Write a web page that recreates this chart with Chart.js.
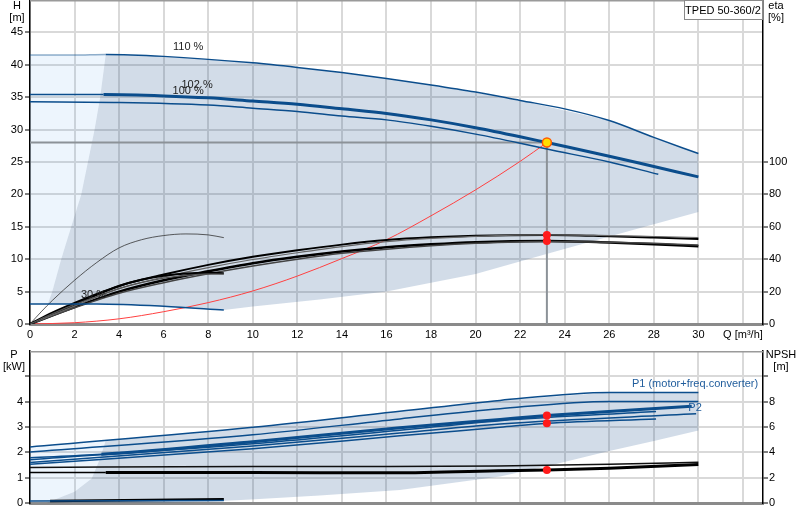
<!DOCTYPE html>
<html>
<head>
<meta charset="utf-8">
<script src="https://cdn.jsdelivr.net/npm/chart.js@4.4.1/dist/chart.umd.min.js"></script>
<style>
  body { margin: 0; background: #fff; }
  #wrap { position: relative; width: 800px; height: 520px; }
  canvas { position: absolute; left: 0; }
</style>
</head>
<body>
<div id="wrap">
  <canvas id="headChart" width="800" height="340" style="top:0"></canvas>
  <canvas id="powerChart" width="800" height="180" style="top:340px"></canvas>
</div>
<script>
// ---- head / efficiency chart data (Q in m3/h) ----
const qH110 = [0, 2, 3.4, 6, 10, 12, 14, 16, 18, 20, 22, 24, 26, 28, 30];
const h110 = [41.5, 41.5, 41.6, 41.3, 40.3, 39.6, 38.8, 37.9, 36.9, 35.8, 34.5, 33.2, 31.4, 28.8, 26.3];
const qH102 = [0, 3.3, 6, 8, 10, 12, 14, 16, 18, 20, 22, 23.2, 26, 28, 30];
const h102 = [35.4, 35.4, 35.2, 34.9, 34.4, 33.9, 33.2, 32.5, 31.5, 30.3, 28.9, 28.0, 25.9, 24.3, 22.7];
const qH100 = [0, 4, 8, 10, 12, 14, 16, 18, 20, 22, 23.2, 26, 28.2];
const h100 = [34.3, 34.2, 33.8, 33.3, 32.8, 32.1, 31.5, 30.5, 29.3, 27.9, 27.0, 25.0, 23.1];
const qH30 = [0, 3, 6, 8.7];
const h30 = [3.1, 3.1, 2.75, 2.15];

const qSys = [0, 2, 4, 6, 8, 10, 12, 14, 16, 18, 20, 22, 23.2];
const hSys = [0, 0.2, 0.8, 1.9, 3.3, 5.1, 7.4, 10.1, 13.0, 16.7, 20.7, 25.1, 28.0];

const qEta = [0, 2, 4, 6, 8, 10, 12, 14, 16, 18, 20, 23.2, 26, 28, 30];
const etaA = [0, 12, 23.5, 30.5, 36.5, 41.5, 45.5, 49, 51.8, 53.5, 54.5, 55, 54.2, 53.4, 52.5];
const etaA2 = [0, 11, 22, 29, 34.8, 39.8, 44, 47.8, 50.8, 52.8, 54.1, 55, 54.6, 54, 53.4];
const etaB = [0, 10.5, 20, 27, 32.5, 37.5, 41.5, 44.8, 47.4, 49.2, 50.5, 51.2, 50.3, 49.3, 48];
const etaB2 = [0, 10, 19, 25.5, 31, 35.8, 40, 43.6, 46.2, 48.3, 49.8, 51, 50.5, 49.8, 48.8];
const qEtaS = [0, 1, 2, 3, 4, 5, 6, 7, 8, 8.7];
const etaS1 = [0, 7, 13, 18.5, 23.5, 27.3, 29.8, 31.2, 31.7, 31.4];
const etaS2 = [0, 6.3, 12, 17, 21.8, 25.5, 28.3, 30, 30.8, 30.8];
const qEtaT = [0, 0.5, 1, 2, 3, 4, 5, 6, 7, 8, 8.7];
const etaT = [0, 7.5, 14.5, 27, 38, 47, 52, 54.6, 55.6, 55, 53.3];

const shadeTopQ = [0.8, 1.0, 1.4, 1.85, 2.3, 2.6, 2.9, 3.15, 3.4, 6, 10, 14, 18, 22, 26, 28, 30, 30, 28, 26, 23.3, 20, 16, 13, 10, 8.7, 6, 3];
const shadeTopH = [3.1, 5, 10, 15, 20, 25, 30, 35, 41.6, 41.3, 40.3, 38.8, 36.9, 34.5, 31.4, 28.8, 26.3, 17.3, 15.4, 13.5, 10.9, 7.7, 5.0, 3.8, 2.7, 2.15, 2.75, 3.1];
const lightTopQ = [0, 0, 2, 3.4, 3.15, 2.9, 2.6, 2.3, 1.85, 1.4, 1.0, 0.8];
const lightTopH = [3.1, 41.5, 41.5, 41.6, 35, 30, 25, 20, 15, 10, 5, 3.1];

const dutyQ = 23.2;
const dutyH = 28.0;
const dutyEta = [55, 51.2];

// ---- power / NPSH chart data ----
const qP1 = [0, 10, 16.6, 21.1, 26, 30];
const p1a = [2.21, 2.99, 3.62, 4.05, 4.36, 4.36];
const p1b = [2.01, 2.69, 3.32, 3.72, 4.01, 4.01];
const qP2 = [0, 3.2, 10, 16.6, 21.1, 23.2, 29.7];
const p2 = [1.79, 1.92, 2.42, 2.97, 3.3, 3.45, 3.82];
const qPA = [0, 10, 16.6, 21.1, 28.1];
const pA = [1.71, 2.34, 2.87, 3.25, 3.61];
const qPB = [0, 10, 16.6, 21.1, 29.9];
const pB = [1.6, 2.25, 2.76, 3.12, 3.52];
const qPC = [0, 10, 16.6, 21.1, 23.2, 28.1];
const pC = [1.53, 2.14, 2.65, 2.99, 3.15, 3.32];
const qPLow = [0, 8.7];
const pLow = [0.08, 0.1];

const qNU = [0, 10, 16, 21, 26, 30];
const npshU = [2.8, 2.88, 2.88, 2.92, 3.05, 3.22];
const qNL = [0, 3.4, 10, 16, 21, 23.2, 26, 30];
const npshL = [2.4, 2.4, 2.4, 2.38, 2.55, 2.6, 2.75, 3.04];
const qNLow = [0.9, 8.7];
const npshLow = [0.15, 0.3];

const shadeBotQ = [0.75, 2.0, 2.77, 3.14, 3.4, 10, 16.6, 21.1, 26, 30, 30, 28, 26, 23.2, 21.1, 16.6, 13, 9.9, 7.9, 6];
const shadeBotP = [0.01, 0.44, 0.97, 1.75, 2.47, 2.99, 3.62, 4.05, 4.36, 4.36, 2.86, 2.45, 2.05, 1.45, 1.05, 0.51, 0.3, 0.14, 0.05, 0.01];
const lightBotQ = [0, 0, 3.4, 3.14, 2.77, 2.0, 0.75];
const lightBotP = [0, 2.21, 2.47, 1.75, 0.97, 0.44, 0.01];

const dutyP = [3.45, 3.15];
const dutyNpsh = 2.6;

// ---- styling ----
const BLUE = '#0b4d8c';
const BLUE_LIGHT = 'rgba(11,77,140,0.45)';
const GRID = '#d9d9d9';
const SHADE = 'rgba(30,80,140,0.2)';
const LIGHT = 'rgba(80,160,235,0.1)';

Chart.defaults.font.family = "'Liberation Sans', Arial, sans-serif";
Chart.defaults.font.size = 11;
Chart.defaults.color = '#000';

function pts(qs, vs) {
  return qs.map((q, i) => ({ x: q, y: vs[i] }));
}

function curve(qs, vs, axis, color, width, extra) {
  return Object.assign({
    data: pts(qs, vs), yAxisID: axis, borderColor: color, borderWidth: width,
    showLine: true, pointRadius: 0, fill: false, cubicInterpolationMode: 'monotone', order: 2
  }, extra || {});
}

function region(qs, vs, axis, color) {
  return {
    data: pts(qs, vs), yAxisID: axis, showLine: true, borderWidth: 0,
    borderColor: 'rgba(0,0,0,0)', backgroundColor: color, fill: 'shape',
    pointRadius: 0, tension: 0, order: 10
  };
}

function dots(qs, vs, axis) {
  return {
    data: pts(qs, vs), yAxisID: axis, showLine: false, pointRadius: 4,
    backgroundColor: '#ff1a1a', borderWidth: 0, order: 0
  };
}

// texts and frame lines drawn on top of the chart
const notesPlugin = {
  id: 'notes',
  afterDraw(chart, args, opts) {
    const ctx = chart.ctx;
    const area = chart.chartArea;
    ctx.save();
    ctx.strokeStyle = '#9a9a9a';
    ctx.lineWidth = 1.5;
    ctx.beginPath();
    ctx.moveTo(area.left, area.top + 0.75);
    ctx.lineTo(area.right, area.top + 0.75);
    ctx.stroke();
    ctx.font = "11px 'Liberation Sans', Arial, sans-serif";
    ctx.textBaseline = 'middle';
    (opts.items || []).forEach(t => {
      let x = t.px, y = t.py;
      if (t.q !== undefined) {
        x = chart.scales.x.getPixelForValue(t.q);
        y = chart.scales[t.axis].getPixelForValue(t.v);
      }
      ctx.fillStyle = t.color || '#000';
      ctx.textAlign = t.align || 'center';
      ctx.fillText(t.text, x, y);
    });
    if (opts.box) {
      const b = opts.box;
      ctx.fillStyle = '#fff';
      ctx.fillRect(b.x1, b.y1, b.x2 - b.x1, b.y2 - b.y1);
      ctx.strokeStyle = '#8a8a8a';
      ctx.lineWidth = 1;
      ctx.strokeRect(b.x1 + 0.5, b.y1 + 0.5, b.x2 - b.x1, b.y2 - b.y1);
      ctx.fillStyle = '#000';
      ctx.textAlign = 'center';
      ctx.fillText(b.text, (b.x1 + b.x2) / 2, (b.y1 + b.y2) / 2 + 1);
    }
    ctx.restore();
  }
};

function xScale(height, showLabels) {
  return {
    type: 'linear', min: 0, max: 32.9,
    afterFit: s => { s.height = height; s.paddingLeft = 0; s.paddingRight = 0; },
    grid: { color: GRID, lineWidth: 2, drawTicks: false },
    border: { color: '#8a8a8a', width: 3 },
    ticks: {
      display: showLabels, stepSize: 2, includeBounds: false, padding: 4,
      maxRotation: 0, autoSkip: false,
      callback: v => (v === 32 ? 'Q [m³/h]' : v)
    }
  };
}

function yScale(pos, min, max, step, maxTick, maxLabel, width, withGrid) {
  return {
    type: 'linear', position: pos, min: min, max: max,
    afterFit: s => { s.width = width; s.paddingTop = 0; s.paddingBottom = 0; },
    afterBuildTicks: s => { s.ticks = s.ticks.filter(t => t.value <= maxTick); },
    grid: {
      color: GRID, lineWidth: 2, drawOnChartArea: withGrid,
      tickLength: 5, tickColor: '#000', tickWidth: 1
    },
    border: { color: '#000', width: 1.5 },
    ticks: { stepSize: step, padding: pos === 'left' ? 2 : 1, callback: v => (v <= maxLabel ? v : '') }
  };
}

const baseOptions = {
  responsive: false,
  animation: false,
  layout: { autoPadding: false, padding: 0 },
  plugins: { legend: { display: false }, tooltip: { enabled: false } }
};

new Chart(document.getElementById('headChart'), {
  type: 'scatter',
  data: {
    datasets: [
      region(lightTopQ, lightTopH, 'yH', LIGHT),
      region(shadeTopQ, shadeTopH, 'yH', SHADE),
      curve([0, dutyQ], [dutyH, dutyH], 'yH', '#8c9298', 2, { order: 8, cubicInterpolationMode: 'default' }),
      curve([dutyQ, dutyQ], [dutyH, 0], 'yH', '#8c9298', 2, { order: 8, cubicInterpolationMode: 'default' }),
      curve(qSys, hSys, 'yH', '#ff4040', 1, { order: 3 }),
      curve(qH110, h110, 'yH', BLUE, 1.5, { segment: { borderColor: c => (c.p1.parsed.x <= 3.4 ? BLUE_LIGHT : undefined) } }),
      curve(qH100, h100, 'yH', BLUE, 1.5),
      curve(qH102, h102, 'yH', BLUE, 3, { segment: { borderWidth: c => (c.p1.parsed.x <= 3.3 ? 1.5 : undefined) } }),
      curve(qH30, h30, 'yH', BLUE, 1.5),
      curve(qEtaT, etaT, 'yEta', '#333', 0.8),
      curve(qEtaS, etaS2, 'yEta', '#555', 1.2),
      curve(qEtaS, etaS1, 'yEta', '#000', 2),
      curve(qEta, etaA2, 'yEta', '#666', 1.2),
      curve(qEta, etaB2, 'yEta', '#444', 1.5),
      curve(qEta, etaA, 'yEta', '#000', 2),
      curve(qEta, etaB, 'yEta', '#000', 2.5),
      dots([dutyQ, dutyQ], dutyEta, 'yEta'),
      {
        data: [{ x: dutyQ, y: dutyH }], yAxisID: 'yH', showLine: false, pointRadius: 4.5,
        backgroundColor: '#ffdd00', borderColor: '#ff5a00', borderWidth: 1.5, order: -1
      }
    ]
  },
  options: Object.assign({}, baseOptions, {
    scales: {
      x: xScale(16, true),
      yH: yScale('left', 0, 50, 5, 45, 45, 30, true),
      yEta: yScale('right', 0, 200, 20, 100, 100, 37, false)
    },
    plugins: Object.assign({}, baseOptions.plugins, {
      notes: {
        items: [
          { text: 'H', px: 17, py: 6 },
          { text: '[m]', px: 17, py: 18 },
          { text: 'eta', px: 776, py: 6 },
          { text: '[%]', px: 776, py: 18 },
          { text: '110 %', q: 7.1, v: 42.7, axis: 'yH', color: '#222' },
          { text: '102 %', q: 7.5, v: 36.9, axis: 'yH', color: '#222' },
          { text: '100 %', q: 7.1, v: 35.9, axis: 'yH', color: '#222' },
          { text: '30 %', q: 2.85, v: 4.5, axis: 'yH', color: '#222' }
        ],
        box: { text: 'TPED 50-360/2', x1: 684, y1: 0, x2: 762, y2: 19 }
      }
    })
  }),
  plugins: [notesPlugin]
});

new Chart(document.getElementById('powerChart'), {
  type: 'scatter',
  data: {
    datasets: [
      region(lightBotQ, lightBotP, 'yP', LIGHT),
      region(shadeBotQ, shadeBotP, 'yP', SHADE),
      curve(qP1, p1a, 'yP', BLUE, 1.5),
      curve(qP1, p1b, 'yP', BLUE, 1.5),
      curve(qPA, pA, 'yP', BLUE, 1.5),
      curve(qPB, pB, 'yP', BLUE, 1.5),
      curve(qPC, pC, 'yP', BLUE, 1.5),
      curve(qP2, p2, 'yP', BLUE, 3, { segment: { borderWidth: c => (c.p1.parsed.x <= 3.2 ? 1.5 : undefined) } }),
      curve(qPLow, pLow, 'yP', BLUE, 1.5),
      curve(qNU, npshU, 'yN', '#111', 1.5),
      curve(qNL, npshL, 'yN', '#000', 3, { segment: { borderWidth: c => (c.p1.parsed.x <= 3.4 ? 1.5 : undefined) } }),
      curve(qNLow, npshLow, 'yN', '#000', 2.5),
      dots([dutyQ, dutyQ], dutyP, 'yP'),
      dots([dutyQ], [dutyNpsh], 'yN')
    ]
  },
  options: Object.assign({}, baseOptions, {
    layout: { autoPadding: false, padding: { top: 11 } },
    scales: {
      x: xScale(17, false),
      yP: yScale('left', 0, 6, 1, 5, 4, 30, true),
      yN: yScale('right', 0, 12, 2, 10, 8, 37, false)
    },
    plugins: Object.assign({}, baseOptions.plugins, {
      notes: {
        items: [
          { text: 'P', px: 14, py: 15 },
          { text: '[kW]', px: 14, py: 27 },
          { text: 'NPSH', px: 781, py: 15 },
          { text: '[m]', px: 781, py: 27 },
          { text: 'P1 (motor+freq.converter)', q: 29.85, v: 4.69, axis: 'yP', color: '#1f5c9c' },
          { text: 'P2', q: 29.85, v: 3.74, axis: 'yP', color: '#1f5c9c' }
        ]
      }
    })
  }),
  plugins: [notesPlugin]
});
</script>
</body>
</html>
